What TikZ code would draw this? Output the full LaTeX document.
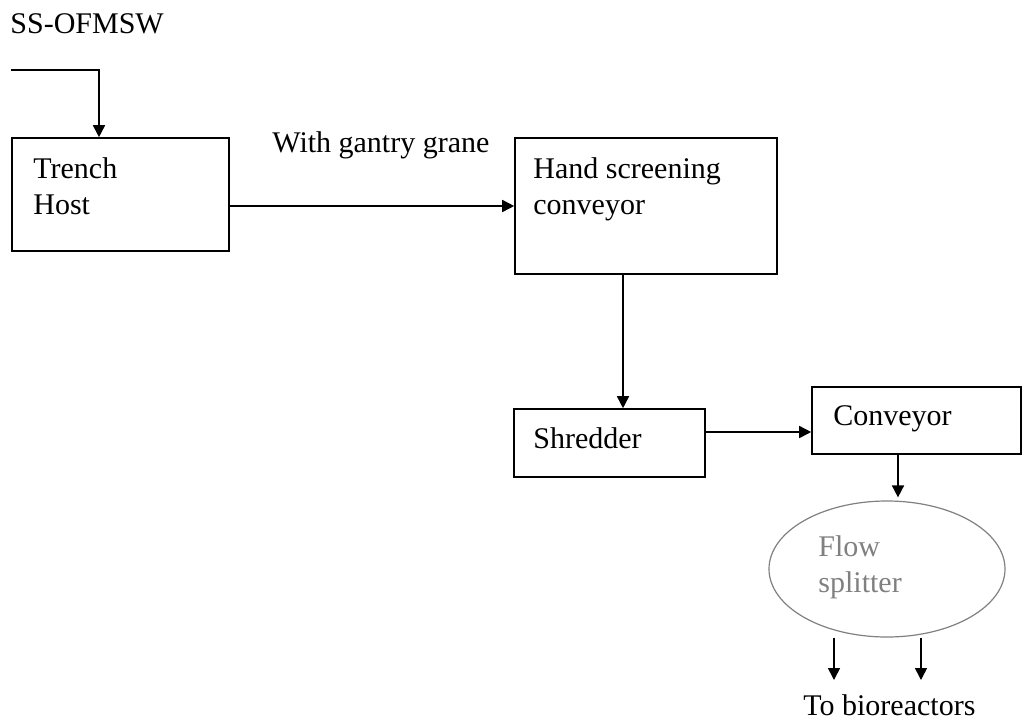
\documentclass[tikz,border=0pt]{standalone}
\usepackage{fontspec}
\setmainfont{Liberation Serif}
\usetikzlibrary{arrows.meta,shapes.geometric}

\tikzset{
  box/.style={draw,rectangle,line width=0.8pt,inner sep=0pt},
  txt/.style={inner sep=0pt,align=left,font=\fontsize{15}{18}\selectfont},
  flow/.style={->,line width=0.8pt}
}

\begin{document}
\begin{tikzpicture}[x=0.5pt,y=-0.5pt,>={Triangle[length=6pt,width=6pt]}]
  \useasboundingbox (0,0) rectangle (1035,724);
  % boxes
  \node[box,minimum width=108.5pt,minimum height=56.5pt] (trench) at (120.5,194.5) {};
  \node[box,minimum width=131pt,minimum height=68pt]     (hand)   at (646,206)     {};
  \node[box,minimum width=95.5pt,minimum height=34pt]    (shred)  at (609.5,443)   {};
  \node[box,minimum width=104.5pt,minimum height=33.5pt] (conv)   at (916.5,420.5) {};
  \node[draw=gray,ellipse,line width=0.6pt,minimum width=118pt,minimum height=68pt] (split) at (887,569) {};
  % texts
  \node[txt,anchor=base west] (feed) at (10,33) {SS-OFMSW};
  \node[txt,anchor=north west] (trenchtxt) at (33,157) {Trench\\Host};
  \node[txt,anchor=base west] (gantry) at (272,152) {With gantry grane};
  \node[txt,anchor=north west] (handtxt) at (533,157) {Hand screening\\conveyor};
  \node[txt,anchor=base west] (shredtxt) at (533,448) {Shredder};
  \node[txt,anchor=base west] (convtxt) at (833,425) {Conveyor};
  \node[txt,anchor=north west,text=gray] (splittxt) at (818,535) {Flow\\splitter};
  \node[txt,anchor=base west] (bio) at (803,715) {To bioreactors};
  % connectors
  \coordinate (in) at (11,70);
  \coordinate (shredout) at ([yshift=5.5pt]shred.east);
  \coordinate (convout) at ([xshift=-9.25pt]conv.south);
  \coordinate (out1) at (834,680);
  \coordinate (out2) at (921,680);
  \draw[flow] (in) -| ([xshift=-10.75pt]trench.north);
  \draw[flow] (trench.east |- hand.west) -- (hand.west);
  \draw[flow] ([xshift=-11.5pt]hand.south) -- ([xshift=-11.5pt]hand.south |- shred.north);
  \draw[flow] (shredout) -- (conv.west |- shredout);
  \draw[flow] (convout) -- ([yshift=1.5pt]convout |- split.north);
  \draw[flow] (split.south -| out1) -- (out1);
  \draw[flow] (split.south -| out2) -- (out2);
\end{tikzpicture}
\end{document}
